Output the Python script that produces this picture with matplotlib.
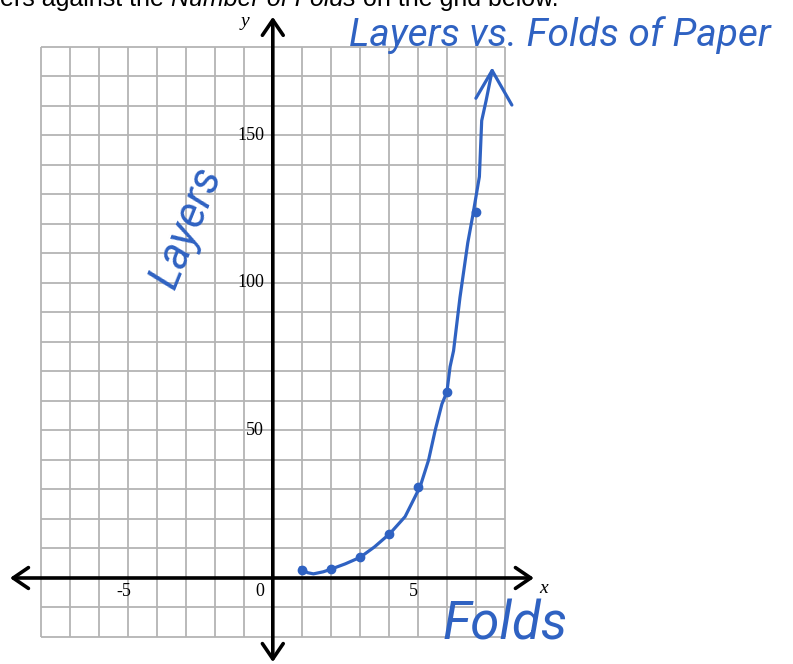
import matplotlib
matplotlib.use('Agg')
from matplotlib import pyplot as plt
import numpy as np

# %% Values

folds = [1,2,3,4,5,6,7]
layers = [2.7,3,7,15,31,63,124]

# Hand drawn curve through the points

curveX = [0.95,1.2,1.4,1.74,1.98,2.5,3.01,3.5,4.04,4.56,5.08,5.37,5.6,5.83,6.0,6.11,6.23,6.45,6.72,6.89,7.12,7.2,7.35,7.56]
curveY = [3.5,1.8,1.4,2.1,2.9,4.8,7,10.5,15.1,20.8,31,40,50.2,59,63,71.6,77,95,113.6,122.7,136,155,161.7,172]
barbX = [7.0,7.56,8.24]
barbY = [162.6,172,160.3]

xTicks = [-5,0,5]
yTicks = [50,100,150]
xGrid = np.arange(-8,9)
yGrid = np.arange(-20,190,10)

blue = '#2f62c2'
grey = '#b4b4b4'
hand = ['Roboto','DejaVu Sans']
serif = ['Liberation Serif','DejaVu Serif']

# %% Sheet

fig = plt.figure(figsize=(7.93,6.64),dpi=100)
ax = fig.add_axes([0,0,1,1])
ax.set_xlim(-9.403,17.93)
ax.set_ylim(-29.15,195.9)
ax.axis('off')

ax.vlines(xGrid,-20,180,color=grey,lw=1.3)
ax.hlines(yGrid,-8,8,color=grey,lw=1.3)

# Axes with open arrow heads

arrow = dict(arrowstyle='<->,head_length=1.1,head_width=0.75',lw=2.6,
    color='black',mutation_scale=10,shrinkA=0,shrinkB=0)
ax.annotate('',xy=(-9.06,0),xytext=(9.0,0),arrowprops=arrow)
ax.annotate('',xy=(0,-28.5),xytext=(0,190.2),arrowprops=arrow)

for t in xTicks:
    if t == 0: ax.text(-0.3,-4.5,str(t),family=serif,fontsize=13,ha='right',va='center')
    else: ax.text(t-0.15,-4.5,str(t),family=serif,fontsize=13,ha='center',va='center')
for t in yTicks: ax.text(-0.3,t,str(t),family=serif,fontsize=13,ha='right',va='center')
ax.text(-0.96,188.5,'y',family=serif,fontsize=14,style='italic',ha='center',va='center')
ax.text(9.33,-3.4,'x',family=serif,fontsize=14,style='italic',ha='center',va='center')

# Printed instruction cut at the top

t1 = ax.text(-9.403,194.0,'ers against the ',family='Liberation Sans',fontsize=18,va='baseline')
t2 = ax.annotate('Number of Folds',xy=(1,0),xycoords=t1,family='Liberation Sans',
    fontsize=18,style='italic',va='bottom')
ax.annotate(' on the grid below.',xy=(1,0),xycoords=t2,family='Liberation Sans',
    fontsize=18,va='bottom')

# %% Hand writing

ax.plot(curveX,curveY,color=blue,lw=2.3,solid_capstyle='round',solid_joinstyle='round')
ax.plot(barbX,barbY,color=blue,lw=2.3,solid_capstyle='round',solid_joinstyle='round')
ax.plot(folds,layers,'o',color=blue,ms=6)

ax.text(9.9,184,'Layers vs. Folds of Paper',family=hand,fontsize=28,color=blue,
    style='italic',ha='center',va='center')
ax.text(-2.95,119,'Layers',family=hand,fontsize=32,color=blue,style='italic',
    rotation=68,ha='center',va='center')
ax.text(8.0,-16,'Folds',family=hand,fontsize=38,color=blue,style='italic',
    ha='center',va='center')

plt.savefig('out.png',dpi=100)
